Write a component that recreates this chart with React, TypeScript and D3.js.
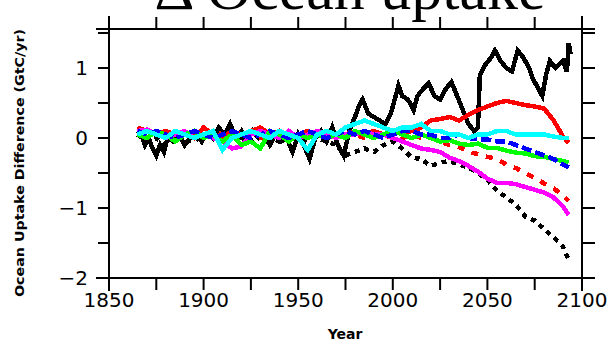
import * as React from 'react';
import * as d3 from 'd3';

// years shared by most series (5-year steps, last point 2093)
const years = [1865, 1870, 1875, 1880, 1885, 1890, 1895, 1900, 1905, 1910, 1915, 1920, 1925, 1930, 1935, 1940, 1945, 1950, 1955, 1960, 1965, 1970, 1975, 1980, 1985, 1990, 1995, 2000, 2005, 2010, 2015, 2020, 2025, 2030, 2035, 2040, 2045, 2050, 2055, 2060, 2065, 2070, 2075, 2080, 2085, 2090, 2093];

const redSolid = [0.15, 0.1, 0.05, 0.1, 0.05, 0.1, 0.0, 0.15, 0.05, 0.0, 0.1, 0.05, 0.1, 0.15, 0.05, 0.1, 0.0, 0.05, 0.1, 0.05, 0.1, 0.0, 0.05, 0.1, 0.05, 0.1, 0.05, 0.1, 0.05, 0.1, 0.15, 0.25, 0.27, 0.3, 0.25, 0.33, 0.4, 0.45, 0.5, 0.53, 0.5, 0.47, 0.45, 0.42, 0.25, 0.02, -0.07];
const blackDashed = [0.05, -0.05, 0.0, -0.1, 0.05, 0.0, -0.05, 0.05, 0.0, -0.05, 0.05, 0.0, -0.05, 0.05, 0.0, -0.05, 0.0, 0.05, -0.05, 0.0, -0.05, -0.1, -0.25, -0.2, -0.15, -0.2, -0.1, -0.05, -0.15, -0.28, -0.3, -0.4, -0.35, -0.33, -0.38, -0.42, -0.5, -0.6, -0.75, -0.85, -0.95, -1.12, -1.18, -1.3, -1.42, -1.55, -1.75];
const redDashed = [0.1, 0.05, 0.1, 0.0, 0.05, 0.1, 0.05, 0.0, 0.1, 0.05, 0.0, 0.05, 0.1, 0.0, 0.05, 0.1, 0.05, 0.0, 0.05, 0.1, 0.05, 0.0, 0.05, 0.05, 0.0, 0.05, 0.0, 0.05, 0.0, 0.05, 0.0, 0.0, -0.05, -0.1, -0.13, -0.2, -0.23, -0.27, -0.3, -0.38, -0.43, -0.5, -0.57, -0.65, -0.72, -0.82, -0.9];
const magenta = [0.1, 0.12, 0.05, 0.0, 0.05, 0.1, 0.0, 0.05, 0.0, -0.05, -0.15, -0.12, 0.05, 0.1, 0.05, 0.0, 0.1, 0.0, 0.05, 0.1, 0.05, 0.0, 0.05, 0.05, 0.1, 0.05, 0.05, 0.0, -0.05, -0.1, -0.15, -0.17, -0.2, -0.28, -0.33, -0.4, -0.48, -0.58, -0.64, -0.64, -0.66, -0.7, -0.74, -0.78, -0.85, -0.98, -1.1];
const green = [0.05, 0.0, 0.1, 0.05, -0.05, 0.05, 0.1, 0.0, 0.05, -0.05, 0.05, -0.1, -0.05, -0.15, 0.1, 0.05, -0.05, 0.05, 0.0, 0.05, 0.0, 0.05, 0.0, 0.1, 0.05, 0.0, 0.05, 0.1, 0.05, 0.0, 0.05, 0.0, -0.05, -0.03, -0.08, -0.1, -0.08, -0.14, -0.14, -0.18, -0.21, -0.22, -0.26, -0.27, -0.3, -0.33, -0.35];
const blue = [0.1, 0.05, 0.1, 0.05, 0.0, 0.05, 0.1, 0.05, 0.0, 0.05, 0.1, 0.05, 0.0, 0.05, 0.1, 0.05, 0.0, 0.05, 0.1, 0.05, 0.0, 0.05, 0.1, 0.05, 0.1, 0.05, 0.0, 0.05, 0.1, 0.1, 0.05, 0.05, 0.0, 0.0, 0.05, 0.0, -0.02, -0.02, -0.05, -0.05, -0.1, -0.15, -0.2, -0.25, -0.3, -0.38, -0.42];
const cyan = [0.05, 0.1, 0.05, 0.0, 0.1, 0.05, 0.0, 0.05, 0.1, -0.17, 0.0, 0.05, 0.1, 0.05, 0.0, 0.1, 0.05, 0.0, -0.17, 0.05, 0.1, 0.05, 0.15, 0.2, 0.25, 0.2, 0.15, 0.1, 0.15, 0.15, 0.2, 0.1, 0.1, 0.05, 0.05, 0.0, 0.05, 0.05, 0.1, 0.1, 0.05, 0.05, 0.05, 0.05, 0.02, 0.0, 0.0];

// the black solid run is much more jagged, so it has its own years
const blackYears = [1865, 1867, 1869, 1871, 1873, 1875, 1877, 1879, 1881, 1884, 1887, 1890, 1893, 1896, 1899, 1902, 1905, 1908, 1911, 1914, 1917, 1920, 1923, 1926, 1929, 1932, 1935, 1938, 1941, 1944, 1947, 1950, 1953, 1956, 1959, 1962, 1965, 1968, 1971, 1974, 1977, 1980, 1982, 1984, 1987, 1990, 1993, 1996, 1999, 2001, 2003, 2005, 2008, 2011, 2013, 2016, 2019, 2022, 2025, 2028, 2031, 2034, 2037, 2040, 2043, 2045, 2046, 2049, 2052, 2054, 2057, 2060, 2063, 2066, 2069, 2072, 2074, 2077, 2079, 2081, 2083, 2086, 2088, 2090, 2092, 2093, 2094];
const blackSolid = [0.1, 0.05, -0.1, 0.0, -0.15, -0.25, -0.1, -0.2, 0.0, -0.05, 0.05, -0.1, 0.0, 0.05, -0.05, 0.1, 0.0, 0.15, 0.05, 0.2, 0.0, 0.1, -0.05, 0.1, 0.0, 0.05, -0.1, 0.05, -0.05, 0.0, -0.2, 0.05, -0.1, -0.3, 0.0, 0.1, -0.05, 0.15, -0.1, -0.25, 0.1, 0.3, 0.45, 0.55, 0.35, 0.3, 0.25, 0.2, 0.35, 0.55, 0.75, 0.6, 0.55, 0.4, 0.6, 0.7, 0.78, 0.6, 0.55, 0.7, 0.8, 0.6, 0.4, 0.2, 0.1, 0.15, 0.9, 1.05, 1.15, 1.25, 1.1, 1.0, 0.95, 1.25, 1.15, 1.0, 0.85, 0.7, 0.6, 0.9, 1.1, 1.0, 1.05, 1.1, 0.95, 1.35, 1.2];

const xTicks = d3.range(1850, 2101, 25);
const xLabels = [1850, 1900, 1950, 2000, 2050, 2100];
const yTicks = d3.range(-2, 1.51, 0.5);
const yLabels = [-2, -1, 0, 1];

const W = 616;
const H = 343;
const left = 109, right = 582, top = 29, bottom = 278;
const ext = 13;

export default function App() {
  const x = d3.scaleLinear().domain([1850, 2100]).range([left, right]);
  const y = d3.scaleLinear().domain([-2, 1.557]).range([bottom, top]);

  const line = d3.line<[number, number]>().x(d => x(d[0])).y(d => y(d[1]));
  const zipped = (ys: number[], xs = years) => line(xs.map((yr, i) => [yr, ys[i]] as [number, number])) || '';

  const series = [
    { vals: blackSolid, xs: blackYears, color: '#000', dash: '' },
    { vals: blackDashed, xs: years, color: '#000', dash: '5,5' },
    { vals: redSolid, xs: years, color: '#ff0000', dash: '' },
    { vals: redDashed, xs: years, color: '#ff0000', dash: '7,8' },
    { vals: magenta, xs: years, color: '#ff00ff', dash: '' },
    { vals: green, xs: years, color: '#00ff00', dash: '' },
    { vals: blue, xs: years, color: '#0000ff', dash: '10,4' },
    { vals: cyan, xs: years, color: '#00ffff', dash: '' },
  ];

  const fmt = (v: number) => (v < 0 ? '\u2212' + Math.abs(v) : String(v));

  return (
    <svg width={W} height={H} style={{ position: 'absolute', left: 0, top: 0, background: '#fff' }}>
      <text x={350} y={9} textAnchor="middle" fontFamily="'Liberation Serif', serif" fontSize={62}>
        Δ Ocean uptake
      </text>

      {series.map((s, i) => (
        <path key={i} d={zipped(s.vals, s.xs)} fill="none" stroke={s.color} strokeWidth={4.5}
          strokeDasharray={s.dash || undefined} strokeLinejoin="miter" shapeRendering="crispEdges" />
      ))}

      <g stroke="#000" strokeWidth={2}>
        <line x1={left - ext} x2={right + ext} y1={top} y2={top} />
        <line x1={left - ext} x2={right + ext} y1={bottom} y2={bottom} />
        <line x1={left} x2={left} y1={top - ext} y2={bottom + ext} />
        <line x1={right} x2={right} y1={top - ext} y2={bottom + ext} />
        {xTicks.map(t => (
          <g key={'x' + t}>
            <line x1={x(t)} x2={x(t)} y1={bottom} y2={bottom + 12} />
            <line x1={x(t)} x2={x(t)} y1={top} y2={top - 12} />
          </g>
        ))}
        {yTicks.map(t => (
          <g key={'y' + t}>
            <line x1={left} x2={left - 11} y1={y(t)} y2={y(t)} />
            <line x1={right} x2={right + 13} y1={y(t)} y2={y(t)} />
          </g>
        ))}
      </g>

      <g fontFamily="'DejaVu Sans', sans-serif" fontSize={20} fill="#000">
        {xLabels.map(t => (
          <text key={t} x={x(t)} y={307} textAnchor="middle">{t}</text>
        ))}
        {yLabels.map(t => (
          <text key={t} x={88} y={y(t) + 7} textAnchor="end">{fmt(t)}</text>
        ))}
      </g>

      <text x={345} y={339} textAnchor="middle" fontFamily="'DejaVu Sans', sans-serif" fontSize={14} fontWeight="bold">
        Year
      </text>
      <text transform="translate(24,163) rotate(-90)" textAnchor="middle" fontFamily="'DejaVu Sans', sans-serif"
        fontSize={12} fontWeight="bold" textLength={268} lengthAdjust="spacingAndGlyphs">
        Ocean Uptake Difference (GtC/yr)
      </text>
    </svg>
  );
}
